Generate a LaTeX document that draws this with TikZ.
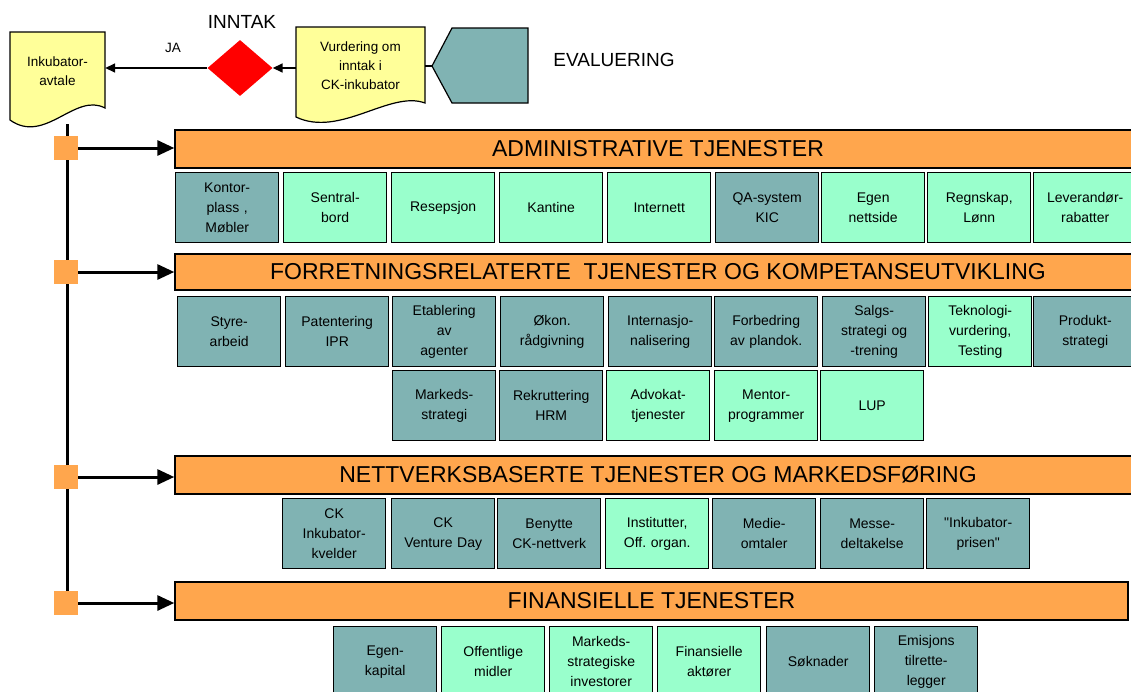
\documentclass[tikz,border=0pt]{standalone}
\usepackage{fontspec}
\setmainfont{Liberation Sans}
\usetikzlibrary{shapes.geometric,arrows.meta}
\frenchspacing

\definecolor{orangec}{HTML}{FFA64D}
\definecolor{tealc}{HTML}{80B3B3}
\definecolor{mintc}{HTML}{99FFCC}
\definecolor{yellowc}{HTML}{FFFF99}

\tikzset{
  cell/.style={draw=black, line width=1.4pt, anchor=north west,
    minimum width=103pt, minimum height=70pt, inner sep=1pt,
    text width=100pt, align=center,
    font=\fontsize{14}{20}\selectfont},
  tcell/.style={cell, fill=tealc},
  mcell/.style={cell, fill=mintc},
  hdr/.style={draw=black, line width=1.4pt, fill=orangec,
    minimum height=38pt, inner sep=0pt, font=\fontsize{23}{26}\selectfont},
  sq/.style={fill=orangec, minimum size=24pt, inner sep=0pt},
  docshape/.style={draw=black, line width=1.2pt, fill=yellowc},
  doctext/.style={align=center, inner sep=0pt, font=\fontsize{13.5}{19}\selectfont},
  smallarrow/.style={line width=1.6pt, -{Triangle[length=10pt,width=9pt]}},
  bigarrow/.style={line width=3pt, -{Triangle[length=17pt,width=15pt]}},
  label/.style={inner sep=0pt}
}

\begin{document}
\begin{tikzpicture}[x=1pt,y=-1pt]
\useasboundingbox (0,0) rectangle (1131,691);
\fill[white] (0,0) rectangle (1131,691);
\clip (0,0) rectangle (1131,691);

% --- intake flow at the top ---
\draw[docshape] (10,32) -- (105,32) -- (105,108)
  .. controls (75,92) and (45,145) .. (10,120) -- cycle;
\node[doctext, minimum width=95pt, minimum height=76pt] (ink) at (57.5,71) {Inkubator-\\avtale};

\draw[docshape] (296,27) -- (425,27) -- (425,103)
  .. controls (390,90) and (340,138) .. (296,117) -- cycle;
\node[doctext, minimum width=129pt, minimum height=76pt] (vur) at (360.5,66) {Vurdering om\\inntak i\\CK-inkubator};

\node[diamond, fill=red, minimum width=65pt, minimum height=56pt, inner sep=0pt] (dia) at (240,68) {};
\node[label, font=\fontsize{19}{22}\selectfont] (inntak) at (242,22) {INNTAK};
\node[label, font=\fontsize{13.5}{15}\selectfont] (ja) at (173,48) {JA};

\draw[docshape, fill=tealc] (432,66) -- (452,28) -- (528,28) -- (528,103) -- (452,103) -- cycle;
\coordinate (evp) at (432,66);
\node[label, font=\fontsize{19}{22}\selectfont] (eval) at (614,60) {EVALUERING};

\draw[line width=1.2pt] (vur.east) -- (evp);
\draw[smallarrow] (vur.west |- dia.east) -- (dia.east);
\draw[smallarrow] (dia.west) -- (dia.west -| ink.east);

% --- service groups ---
\node[hdr, minimum width=966pt] (h1) at (658,149) {ADMINISTRATIVE TJENESTER};
\node[hdr, minimum width=966pt, minimum height=36pt] (h2) at (658,272) {FORRETNINGSRELATERTE\ \ TJENESTER OG KOMPETANSEUTVIKLING};
\node[hdr, minimum width=966pt] (h3) at (658,475) {NETTVERKSBASERTE TJENESTER OG MARKEDSFØRING};
\node[hdr, minimum width=953pt] (h4) at (651.5,601) {FINANSIELLE TJENESTER};

% spine with branch markers
\coordinate (spinetop) at (67,124);
\draw[line width=3pt] (spinetop) -- (67,603);
\node[sq] (s1) at (66,148) {};
\node[sq] (s2) at (66,272) {};
\node[sq] (s3) at (66,477) {};
\node[sq] (s4) at (66,603) {};
\draw[bigarrow] (s1.east) -- (s1.east -| h1.west);
\draw[bigarrow] (s2.east) -- (s2.east -| h2.west);
\draw[bigarrow] (s3.east) -- (s3.east -| h3.west);
\draw[bigarrow] (s4.east) -- (s4.east -| h4.west);

% administrative services
\node[tcell] (a1) at (175,172) {Kontor-\\plass ,\\Møbler};
\node[mcell] (a2) at (283,172) {Sentral-\\bord};
\node[mcell] (a3) at (391,172) {Resepsjon};
\node[mcell] (a4) at (499,172) {Kantine};
\node[mcell] (a5) at (607,172) {Internett};
\node[tcell] (a6) at (715,172) {QA-system\\KIC};
\node[mcell] (a7) at (821,172) {Egen\\nettside};
\node[mcell] (a8) at (927,172) {Regnskap,\\Lønn};
\node[mcell] (a9) at (1033,172) {Leverandør-\\rabatter};

% business services and competence
\node[tcell] (b1) at (177,296) {Styre-\\arbeid};
\node[tcell] (b2) at (285,296) {Patentering\\IPR};
\node[tcell] (b3) at (392,296) {Etablering\\av\\agenter};
\node[tcell] (b4) at (500,296) {Økon.\\rådgivning};
\node[tcell] (b5) at (608,296) {Internasjo-\\nalisering};
\node[tcell] (b6) at (714,296) {Forbedring\\av plandok.};
\node[tcell] (b7) at (822,296) {Salgs-\\strategi og\\-trening};
\node[mcell] (b8) at (928,296) {Teknologi-\\vurdering,\\Testing};
\node[tcell] (b9) at (1033,296) {Produkt-\\strategi};

\node[tcell] (c1) at (392,370) {Markeds-\\strategi};
\node[tcell] (c2) at (499,370) {Rekruttering\\HRM};
\node[mcell] (c3) at (606,370) {Advokat-\\tjenester};
\node[mcell] (c4) at (714,370) {Mentor-\\programmer};
\node[mcell] (c5) at (820,370) {LUP};

% network services and marketing
\node[tcell] (d1) at (282,498) {CK\\Inkubator-\\kvelder};
\node[tcell] (d2) at (391,498) {CK\\Venture Day};
\node[tcell] (d3) at (497,498) {Benytte\\CK-nettverk};
\node[mcell] (d4) at (605,498) {Institutter,\\Off. organ.};
\node[tcell] (d5) at (712,498) {Medie-\\omtaler};
\node[tcell] (d6) at (820,498) {Messe-\\deltakelse};
\node[tcell] (d7) at (926,498) {\textquotedbl Inkubator-\\prisen\textquotedbl};

% financial services
\node[tcell] (e1) at (333,626) {Egen-\\kapital};
\node[mcell] (e2) at (441,626) {Offentlige\\midler};
\node[mcell] (e3) at (549,626) {Markeds-\\strategiske\\investorer};
\node[mcell] (e4) at (657,626) {Finansielle\\aktører};
\node[tcell] (e5) at (766,626) {Søknader};
\node[tcell] (e6) at (874,626) {Emisjons\\tilrette-\\legger};
\end{tikzpicture}
\end{document}
